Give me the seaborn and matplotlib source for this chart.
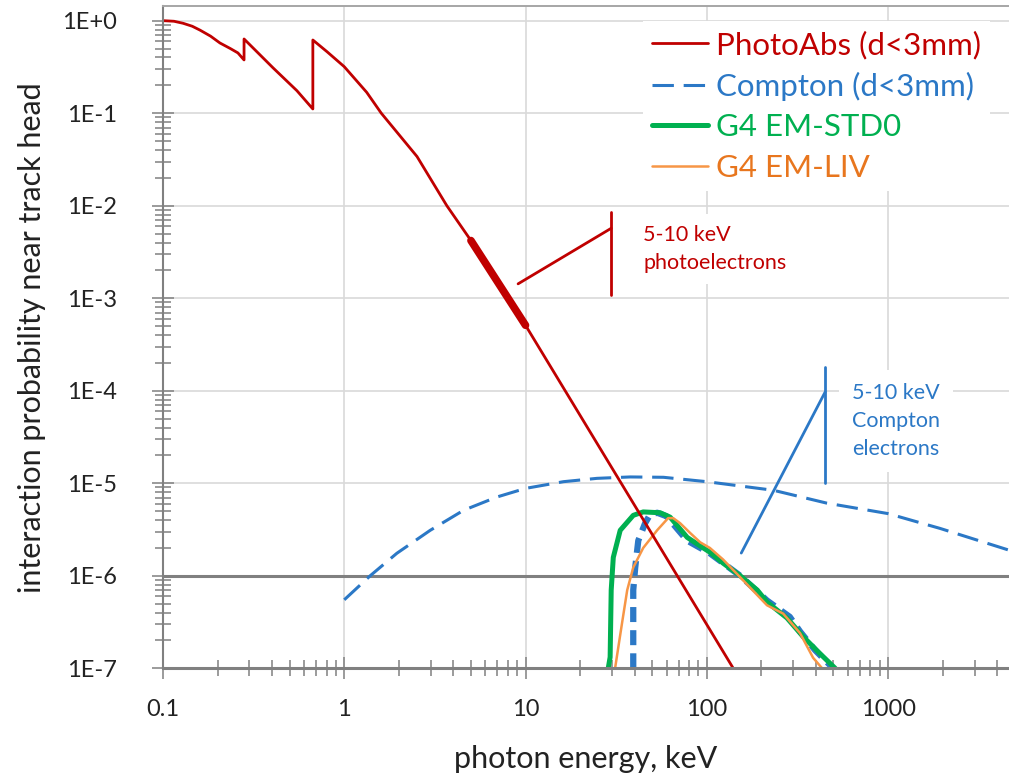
import matplotlib
matplotlib.use('Agg')
import matplotlib.pyplot as plt
from matplotlib.ticker import LogLocator, NullFormatter, FixedLocator, FixedFormatter
import seaborn as sns

sns.set_theme(style='white')
plt.rcParams['font.family'] = ['Lato', 'DejaVu Sans']

# values: photon energy (keV) and probability
photo_e = [0.1, 0.115, 0.129, 0.145, 0.16, 0.183, 0.206, 0.235, 0.259, 0.28, 0.28, 0.404,
           0.548, 0.671, 0.671, 0.803, 1.0, 1.33, 1.6, 2.52, 3.68, 5.0, 10.0, 50.0, 140.0]
photo_p = [1.0, 0.985, 0.937, 0.87, 0.79, 0.68, 0.574, 0.50, 0.448, 0.376, 0.634, 0.31,
           0.175, 0.111, 0.618, 0.462, 0.318, 0.168, 0.1, 0.034, 0.01, 4.2e-3, 5.1e-4,
           2.8e-6, 1e-7]

photo_5_10_e = [5.0, 10.0]
photo_5_10_p = [4.2e-3, 5.1e-4]

compton_e = [1.0, 1.39, 1.95, 2.98, 4.55, 6.95, 10.0, 16.2, 24.8, 37.8, 57.7,
             100.0, 233.0, 459.0, 1000.0, 1937.0, 4620.0]
compton_p = [5.5e-7, 1e-6, 1.75e-6, 3.1e-6, 5.1e-6, 7.1e-6, 8.8e-6, 1.04e-5, 1.13e-5,
             1.17e-5, 1.16e-5, 1.04e-5, 8.4e-6, 6.1e-6, 4.7e-6, 3.25e-6, 1.9e-6]

g4_compton_e = [39.3, 39.3, 40.3, 41.9, 45.7, 48.7, 53.3, 60.0, 78.0, 104.0, 153.0,
                215.0, 287.0, 327.0, 396.0, 498.0]
g4_compton_p = [1e-7, 7e-7, 1.23e-6, 2.4e-6, 3.7e-6, 4.6e-6, 4.8e-6, 4.4e-6, 2.4e-6,
                1.75e-6, 1e-6, 5.4e-7, 3.6e-7, 2.5e-7, 1.57e-7, 1e-7]

std0_e = [28.6, 29.3, 29.7, 30.5, 33.3, 39.3, 44.6, 55.3, 62.8, 78.0, 92.0, 104.0,
          123.0, 153.0, 190.0, 215.0, 277.0, 340.0, 420.0, 511.0]
std0_p = [1e-7, 1.32e-7, 7e-7, 1.58e-6, 3.1e-6, 4.5e-6, 4.9e-6, 4.8e-6, 4.3e-6, 2.6e-6,
          2.1e-6, 1.8e-6, 1.37e-6, 1e-6, 7e-7, 5.2e-7, 3.5e-7, 2.2e-7, 1.45e-7, 1e-7]

liv_e = [31.2, 34.1, 36.4, 39.3, 44.6, 53.2, 61.2, 65.3, 71.3, 81.0, 92.0, 104.0,
         123.0, 159.0, 215.0, 264.0, 327.0, 386.0, 433.0]
liv_p = [1e-7, 3.1e-7, 7e-7, 1.23e-6, 2.0e-6, 3.1e-6, 4.2e-6, 4.2e-6, 3.7e-6, 2.9e-6,
         2.3e-6, 2.0e-6, 1.5e-6, 8.9e-7, 4.8e-7, 3.9e-7, 2.4e-7, 1.3e-7, 1e-7]

xtick_vals = [0.1, 1, 10, 100, 1000]
xtick_labels = ['0.1', '1', '10', '100', '1000']
ytick_vals = [1e-7, 1e-6, 1e-5, 1e-4, 1e-3, 1e-2, 1e-1, 1]
ytick_labels = ['1E-7', '1E-6', '1E-5', '1E-4', '1E-3', '1E-2', '1E-1', '1E+0']

red = '#C00000'
blue = '#2B78C6'
green = '#00B050'
orange = '#F79646'

fig = plt.figure(figsize=(10.09, 7.78), dpi=100)
ax = fig.add_axes([163 / 1009, (778 - 668.3) / 778, (1009 - 163) / 1009, (668.3 - 6) / 778])
ax.set_xscale('log')
ax.set_yscale('log')

ax.axhline(1e-6, color='#808080', lw=2.2, zorder=1.8)

sns.lineplot(x=compton_e, y=compton_p, ax=ax, color=blue, lw=2.2, sort=False, estimator=None,
             linestyle=(0, (7, 3.2)), label='Compton (d<3mm)', zorder=2.1)
sns.lineplot(x=g4_compton_e, y=g4_compton_p, ax=ax, color=blue, lw=4.5, sort=False,
             estimator=None, linestyle=(0, (2.4, 1.3)), zorder=2.2)
sns.lineplot(x=std0_e, y=std0_p, ax=ax, color=green, lw=3.6, sort=False, estimator=None,
             label='G4 EM-STD0', zorder=2.3)
sns.lineplot(x=liv_e, y=liv_p, ax=ax, color=orange, lw=1.8, sort=False, estimator=None,
             label='G4 EM-LIV', zorder=2.4)
sns.lineplot(x=photo_e, y=photo_p, ax=ax, color=red, lw=2.0, sort=False, estimator=None,
             label='PhotoAbs (d<3mm)', zorder=2.5)
sns.lineplot(x=photo_5_10_e, y=photo_5_10_p, ax=ax, color=red, lw=5.5, sort=False,
             estimator=None, zorder=2.5)

ax.set_xlim(0.1, 4650)
ax.set_ylim(1e-7, 1.44)

# call-outs
ax.plot([29.7, 29.7], [8.5e-3, 1.08e-3], color=red, lw=2, zorder=2)
ax.plot([9.1, 29.7], [1.43e-3, 5.7e-3], color=red, lw=2, zorder=2)
ax.text(44.6, 10 ** -2.468, '5-10 keV\nphotoelectrons', color=red, fontsize=15.5,
        ha='left', va='center', linespacing=1.5, zorder=1.5,
        bbox=dict(boxstyle='square,pad=0.5', fc='white', ec='none'))
ax.plot([450, 450], [1.8e-4, 1.0e-5], color=blue, lw=2, zorder=2)
ax.plot([155, 450], [1.76e-6, 9.7e-5], color=blue, lw=2, zorder=2)
ax.text(634, 10 ** -4.327, '5-10 keV\nCompton\nelectrons', color=blue, fontsize=15.5,
        ha='left', va='center', linespacing=1.5, zorder=1.5,
        bbox=dict(boxstyle='square,pad=0.6', fc='white', ec='none'))

# axes look
ax.xaxis.set_major_locator(FixedLocator(xtick_vals))
ax.xaxis.set_major_formatter(FixedFormatter(xtick_labels))
ax.xaxis.set_minor_locator(LogLocator(base=10, subs=range(2, 10), numticks=20))
ax.xaxis.set_minor_formatter(NullFormatter())
ax.yaxis.set_major_locator(FixedLocator(ytick_vals))
ax.yaxis.set_major_formatter(FixedFormatter(ytick_labels))
ax.yaxis.set_minor_locator(LogLocator(base=10, subs=range(2, 10), numticks=20))
ax.yaxis.set_minor_formatter(NullFormatter())

ax.tick_params(axis='both', which='major', direction='inout', length=16, width=1.1,
               color='#808080', labelsize=17, labelcolor='#222222',
               bottom=True, left=True)
ax.tick_params(axis='x', which='major', pad=14)
ax.tick_params(axis='y', which='major', pad=25)
ax.tick_params(axis='both', which='minor', direction='inout', length=12, width=1.1,
               color='#808080', bottom=True, left=True)

ax.grid(True, which='major', color='#d9d9d9', lw=1.2)
ax.set_axisbelow(True)
for side in ['left', 'bottom', 'top']:
    ax.spines[side].set_color('#808080')
ax.spines['left'].set_linewidth(1.5)
ax.spines['bottom'].set_linewidth(2.2)
ax.spines['top'].set_linewidth(1.4)
ax.spines['top'].set_color('#a6a6a6')
ax.spines['right'].set_visible(False)

ax.set_xlabel('photon energy, keV', fontsize=22, color='#222222', labelpad=18)
ax.set_ylabel('interaction probability near track head', fontsize=22, color='#222222',
              labelpad=12)

handles, labels = ax.get_legend_handles_labels()
order = [labels.index(n) for n in ['PhotoAbs (d<3mm)', 'Compton (d<3mm)', 'G4 EM-STD0', 'G4 EM-LIV']]
leg = ax.legend([handles[i] for i in order], [labels[i] for i in order],
                loc='upper left', bbox_to_anchor=(0.637, 0.973), bbox_transform=fig.transFigure,
                fontsize=22.5, frameon=True, fancybox=False, facecolor='white', edgecolor='none',
                framealpha=1, borderpad=0.3, borderaxespad=0, handlelength=1.8,
                handletextpad=0.23, labelspacing=0.4)
for txt, c in zip(leg.get_texts(), [red, blue, green, '#E8761E']):
    txt.set_color(c)

fig.savefig('out.png', dpi=100)
